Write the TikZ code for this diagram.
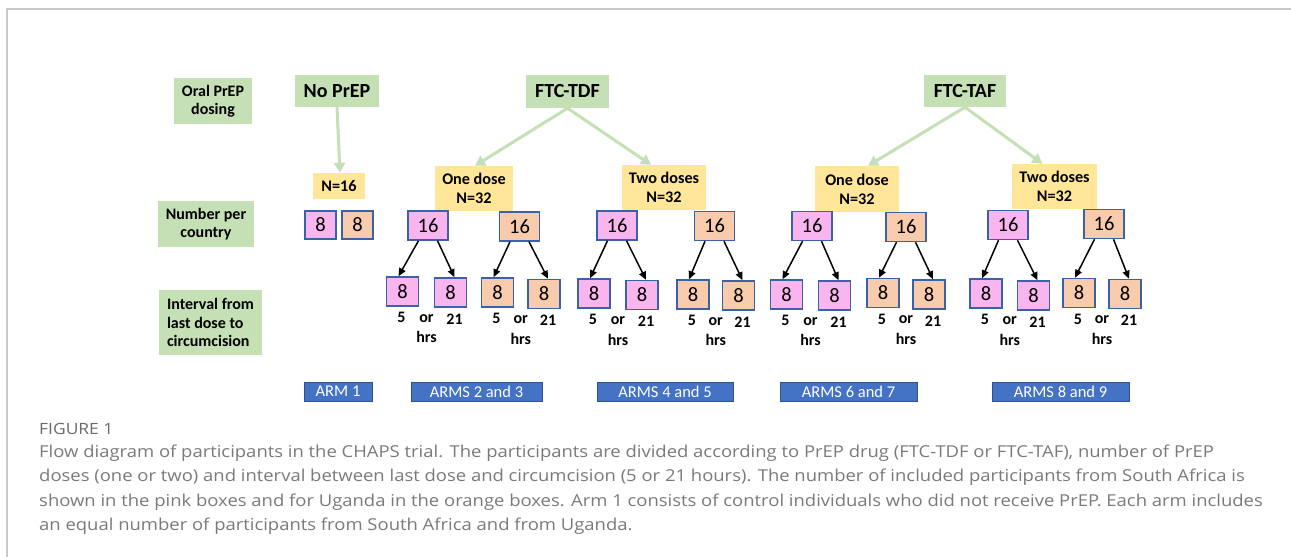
\documentclass[tikz,border=0pt]{standalone}
\usepackage{fontspec}
\setmainfont{Carlito}
\newfontfamily\capfont[FakeStretch=1.125]{Open Sans}
\usetikzlibrary{arrows.meta,calc}
\definecolor{greenc}{HTML}{C5E0B4}
\definecolor{yellowc}{HTML}{FFE699}
\definecolor{pinkc}{HTML}{F9B5EE}
\definecolor{orangec}{HTML}{F8CBAD}
\definecolor{bordc}{HTML}{3A62A8}
\definecolor{armc}{HTML}{4472C4}
\definecolor{armb}{HTML}{2F528F}
\definecolor{framec}{HTML}{C8C8C8}
\definecolor{capc}{HTML}{7A7A7A}
\definecolor{figc}{HTML}{6A6A6A}
\tikzset{
  gbox/.style={fill=greenc, inner sep=0pt, align=center, font=\bfseries\fontsize{16}{18.5}\selectfont},
  topbox/.style={fill=greenc, inner sep=0pt, font=\bfseries\fontsize{20}{24}\selectfont},
  ybox/.style={fill=yellowc, inner sep=0pt, align=center, font=\bfseries\fontsize{16.2}{19}\selectfont},
  cnt/.style={draw=bordc, line width=1.5pt, inner sep=0pt, font=\fontsize{20.5}{24}\selectfont},
  pbig/.style={cnt, fill=pinkc, minimum width=40pt, minimum height=29pt},
  obig/.style={cnt, fill=orangec, minimum width=40pt, minimum height=29pt},
  psm/.style={cnt, fill=pinkc, minimum width=32pt, minimum height=29pt},
  osm/.style={cnt, fill=orangec, minimum width=32pt, minimum height=29pt},
  armbox/.style={fill=armc, draw=armb, line width=1pt, text=white, inner sep=0pt, minimum height=19pt, font=\fontsize{16.5}{18}\selectfont},
  lab/.style={inner sep=0pt, font=\bfseries\fontsize{16}{18}\selectfont},
  garrow/.style={draw=greenc, line width=3pt, -{Triangle[length=10pt,width=11pt]}},
  barrow/.style={draw=black, line width=1.5pt, -{Triangle[length=8pt,width=7pt]}},
  capline/.style={anchor=base west, inner sep=0pt, text=capc, font=\capfont\fontsize{16.4}{20}\selectfont}
}
\begin{document}
\begin{tikzpicture}[x=1pt,y=-1pt]
\useasboundingbox (0,0) rectangle (1291,557);
\fill[white] (0,0) rectangle (1291,557);
\draw[framec, line width=1.5pt] (7,557) -- (7,9) -- (1291,9);

% left labels
\node[gbox, minimum width=78pt, minimum height=46pt] (oral) at (213,101) {Oral PrEP\\dosing};
\node[gbox, minimum width=96pt, minimum height=46pt] (numc) at (206,224) {Number per\\country};
\node[gbox, minimum width=103pt, minimum height=65pt, align=left] (intv) at (210.5,322.5) {Interval from\\last dose to\\circumcision};

% top drug boxes
\node[topbox, minimum width=84pt, minimum height=32pt] (noprep) at (337,91) {No PrEP};
\node[topbox, minimum width=83pt, minimum height=33pt] (tdf) at (567.5,91.5) {FTC-TDF};
\node[topbox, minimum width=82pt, minimum height=32pt] (taf) at (965,91) {FTC-TAF};

% yellow dose boxes
\node[ybox, minimum width=52pt, minimum height=26pt] (n16) at (339,186) {N=16};
\node[ybox, minimum width=78pt, minimum height=45pt] (tdf1) at (474,188.5) {One dose\\N=32};
\node[ybox, minimum width=84pt, minimum height=45pt] (tdf2) at (664,187.5) {Two doses\\N=32};
\node[ybox, minimum width=84pt, minimum height=46pt] (taf1) at (857,189) {One dose\\N=32};
\node[ybox, minimum width=85pt, minimum height=45pt] (taf2) at (1054.5,186.5) {Two doses\\N=32};

% green arrows
\draw[garrow] (noprep.south) -- ([xshift=1pt]n16.north);
\draw[garrow] (tdf.south) -- ([xshift=1pt]tdf1.north);
\draw[garrow] (tdf.south) -- ([xshift=-13pt]tdf2.north);
\draw[garrow] (taf.south) -- ([xshift=11pt]taf1.north);
\draw[garrow] (taf.south) -- ([xshift=-12pt]taf2.north);

% number per country row
\node[psm, minimum width=31pt, minimum height=28pt] (a1) at (320.5,225) {8};
\node[osm, minimum width=31pt, minimum height=28pt] (a2) at (357.5,225) {8};
\node[pbig] (b1) at (428,225.5) {16};
\node[obig] (b2) at (519.5,226.5) {16};
\node[pbig] (b3) at (617,225.5) {16};
\node[obig] (b4) at (714.5,226) {16};
\node[pbig] (b5) at (812,226) {16};
\node[obig] (b6) at (906,227) {16};
\node[pbig] (b7) at (1008,225) {16};
\node[obig] (b8) at (1104,224) {16};

% interval row
\node[psm] (c1) at (402.5,291.5) {8};
\node[psm] (c2) at (450.5,292.5) {8};
\node[osm] (c3) at (497.5,292.5) {8};
\node[osm] (c4) at (544,294) {8};
\node[psm] (c5) at (594,293.5) {8};
\node[psm] (c6) at (642,295) {8};
\node[osm] (c7) at (693,294.5) {8};
\node[osm] (c8) at (738.5,295.5) {8};
\node[psm] (c9) at (786.5,294.5) {8};
\node[psm] (c10) at (834.5,295.5) {8};
\node[osm] (c11) at (883,293) {8};
\node[osm] (c12) at (929,294.5) {8};
\node[psm] (c13) at (986,293.5) {8};
\node[psm] (c14) at (1033.5,295.5) {8};
\node[osm] (c15) at (1079,293) {8};
\node[osm] (c16) at (1125,294) {8};

% black arrows and interval labels
\foreach \k in {1,...,8}{
  \pgfmathtruncatemacro{\l}{2*\k-1}
  \pgfmathtruncatemacro{\r}{2*\k}
  \draw[barrow] ([xshift=-9.5pt]b\k.south) -- ([xshift=-4pt]c\l.north);
  \draw[barrow] ([xshift=9.5pt]b\k.south) -- ([xshift=4pt]c\r.north);
  \node[lab] (five\k) at ($(c\l.south)+(-1,11)$) {5};
  \node[lab] (tw\k) at ($(c\r.south)+(4,11)$) {21};
  \node[lab] (or\k) at ($(c\l.south)!0.5!(c\r.south)+(0,11)$) {or};
  \node[lab] (hrs\k) at ($(c\l.south)!0.5!(c\r.south)+(0,30)$) {hrs};
}

% arm boxes
\node[armbox, minimum width=68pt] (arm1) at (338,391.5) {ARM 1};
\node[armbox, minimum width=131pt] (arm23) at (476.5,391.5) {ARMS 2 and 3};
\node[armbox, minimum width=136pt] (arm45) at (665,391.5) {ARMS 4 and 5};
\node[armbox, minimum width=137pt] (arm67) at (848.5,391.5) {ARMS 6 and 7};
\node[armbox, minimum width=137pt] (arm89) at (1060.5,391.5) {ARMS 8 and 9};

% caption
\node[anchor=base west, inner sep=0pt, text=figc, font=\capfont\fontsize{15.5}{16}\selectfont] (fig) at (39,434) {FIGURE 1};
\node[capline] (cap1) at (39,457) {Flow diagram of participants in the CHAPS trial. The participants are divided according to PrEP drug (FTC-TDF or FTC-TAF), number of PrEP};
\node[capline] (cap2) at (39,481.5) {doses (one or two) and interval between last dose and circumcision (5 or 21 hours). The number of included participants from South Africa is};
\node[capline] (cap3) at (39,506) {shown in the pink boxes and for Uganda in the orange boxes. Arm 1 consists of control individuals who did not receive PrEP. Each arm includes};
\node[capline] (cap4) at (39,530.5) {an equal number of participants from South Africa and from Uganda.};
\end{tikzpicture}
\end{document}
